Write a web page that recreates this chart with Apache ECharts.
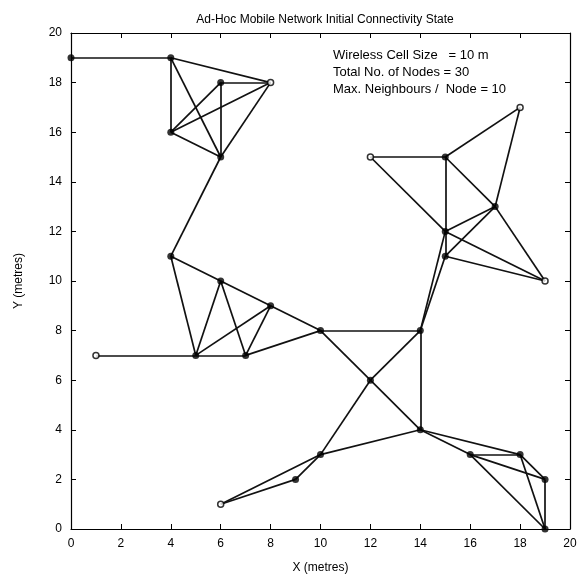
<!DOCTYPE html>
<html>
<head>
<meta charset="utf-8">
<script src="https://cdn.jsdelivr.net/npm/echarts@6/dist/echarts.min.js"></script>
<style>
  html, body { margin: 0; padding: 0; background: #fff; }
  #chart { width: 582px; height: 579px; }
</style>
</head>
<body>
<div id="chart"></div>
<script>
// Node positions (metres)
const nodes = [
  [0, 19], [4, 19], [6, 18], [8, 18], [4, 16], [6, 15],
  [4, 11], [6, 10], [8, 9], [10, 8], [1, 7], [5, 7], [7, 7],
  [14, 8], [12, 6], [14, 4], [10, 3], [9, 2], [6, 1],
  [16, 3], [18, 3], [19, 2], [19, 0],
  [12, 15], [15, 15], [18, 17], [17, 13], [15, 12], [15, 11], [19, 10]
];

// Nodes drawn with an open marker
const openNodes = [[8, 18], [1, 7], [6, 1], [12, 15], [18, 17], [19, 10]];

// Links between neighbouring nodes, as pairs of node positions
const links = [
  [[0, 19], [4, 19]], [[4, 19], [8, 18]], [[4, 19], [4, 16]], [[4, 19], [6, 15]],
  [[6, 18], [8, 18]], [[6, 18], [4, 16]], [[6, 18], [6, 15]],
  [[8, 18], [4, 16]], [[8, 18], [6, 15]], [[4, 16], [6, 15]],
  [[6, 15], [4, 11]],
  [[4, 11], [6, 10]], [[6, 10], [8, 9]], [[8, 9], [10, 8]],
  [[4, 11], [5, 7]], [[6, 10], [5, 7]], [[6, 10], [7, 7]],
  [[8, 9], [5, 7]], [[8, 9], [7, 7]],
  [[1, 7], [5, 7]], [[5, 7], [7, 7]], [[7, 7], [10, 8]],
  [[10, 8], [14, 8]], [[10, 8], [12, 6]],
  [[12, 6], [14, 4]], [[12, 6], [14, 8]], [[12, 6], [10, 3]],
  [[14, 8], [14, 4]], [[14, 8], [15, 12]], [[14, 8], [15, 11]],
  [[12, 15], [15, 15]], [[12, 15], [15, 12]],
  [[15, 15], [18, 17]], [[15, 15], [15, 12]], [[15, 15], [17, 13]],
  [[18, 17], [17, 13]], [[17, 13], [15, 12]], [[17, 13], [15, 11]],
  [[17, 13], [19, 10]], [[15, 12], [19, 10]], [[15, 11], [19, 10]],
  [[15, 12], [15, 11]],
  [[10, 3], [14, 4]], [[10, 3], [6, 1]], [[10, 3], [9, 2]], [[9, 2], [6, 1]],
  [[14, 4], [16, 3]], [[14, 4], [18, 3]], [[16, 3], [18, 3]],
  [[16, 3], [19, 2]], [[16, 3], [19, 0]],
  [[18, 3], [19, 2]], [[18, 3], [19, 0]], [[19, 2], [19, 0]]
];

// Axis settings
const axisMin = 0, axisMax = 20, axisStep = 2;

const titleText = 'Ad-Hoc Mobile Network Initial Connectivity State';
const infoLines = [
  'Wireless Cell Size   = 10 m',
  'Total No. of Nodes = 30',
  'Max. Neighbours /  Node = 10'
];

const FONT = '"Liberation Sans", Arial, Helvetica, sans-serif';
const isOpen = p => openNodes.some(q => q[0] === p[0] && q[1] === p[1]);

const chart = echarts.init(document.getElementById('chart'), null, { renderer: 'canvas' });

const baseAxis = {
  type: 'value', min: axisMin, max: axisMax, interval: axisStep,
  axisLine: { show: true, onZero: false, lineStyle: { color: '#000', width: 1.2 } },
  axisTick: { show: true, inside: true, length: 5, lineStyle: { color: '#000', width: 1 } },
  splitLine: { show: false },
  axisLabel: { color: '#000', fontFamily: FONT, fontSize: 12 }
};

chart.setOption({
  animation: false,
  backgroundColor: '#fff',
  title: {
    text: titleText,
    left: 320, top: 9, textAlign: 'center',
    textStyle: { fontFamily: FONT, fontSize: 12, fontWeight: 'normal', color: '#000' }
  },
  grid: { left: 71, right: 12, top: 33, bottom: 50, show: false },
  xAxis: [
    Object.assign({}, baseAxis, {
      position: 'bottom',
      name: 'X (metres)', nameLocation: 'middle', nameGap: 33,
      nameTextStyle: { fontFamily: FONT, fontSize: 12, color: '#000' },
      axisLabel: Object.assign({}, baseAxis.axisLabel, { margin: 9 })
    }),
    Object.assign({}, baseAxis, { position: 'top', axisLabel: { show: false } })
  ],
  yAxis: [
    Object.assign({}, baseAxis, {
      position: 'left',
      name: 'Y (metres)', nameLocation: 'middle', nameGap: 46,
      nameTextStyle: { fontFamily: FONT, fontSize: 12, color: '#000' },
      axisLabel: Object.assign({}, baseAxis.axisLabel, { margin: 9 })
    }),
    Object.assign({}, baseAxis, { position: 'right', axisLabel: { show: false } })
  ],
  graphic: [{
    type: 'text', left: 333, top: 47, silent: true,
    style: {
      text: infoLines.join('\n'),
      font: '13px ' + FONT, fill: '#000', lineHeight: 17
    }
  }],
  series: [
    {
      type: 'lines',
      coordinateSystem: 'cartesian2d',
      xAxisIndex: 0, yAxisIndex: 0,
      polyline: false,
      silent: true,
      lineStyle: { color: '#111', width: 1.7, opacity: 1, curveness: 0 },
      data: links.map(l => ({ coords: l }))
    },
    {
      type: 'scatter',
      xAxisIndex: 0, yAxisIndex: 0,
      symbol: 'circle',
      silent: true,
      data: nodes.map(p => ({
        value: p,
        symbolSize: isOpen(p) ? 6 : 7,
        itemStyle: isOpen(p)
          ? { color: '#fff', borderColor: '#000', borderWidth: 1.5 }
          : { color: '#000', borderColor: '#000', borderWidth: 0 }
      })),
      z: 5
    }
  ]
});
</script>
</body>
</html>
